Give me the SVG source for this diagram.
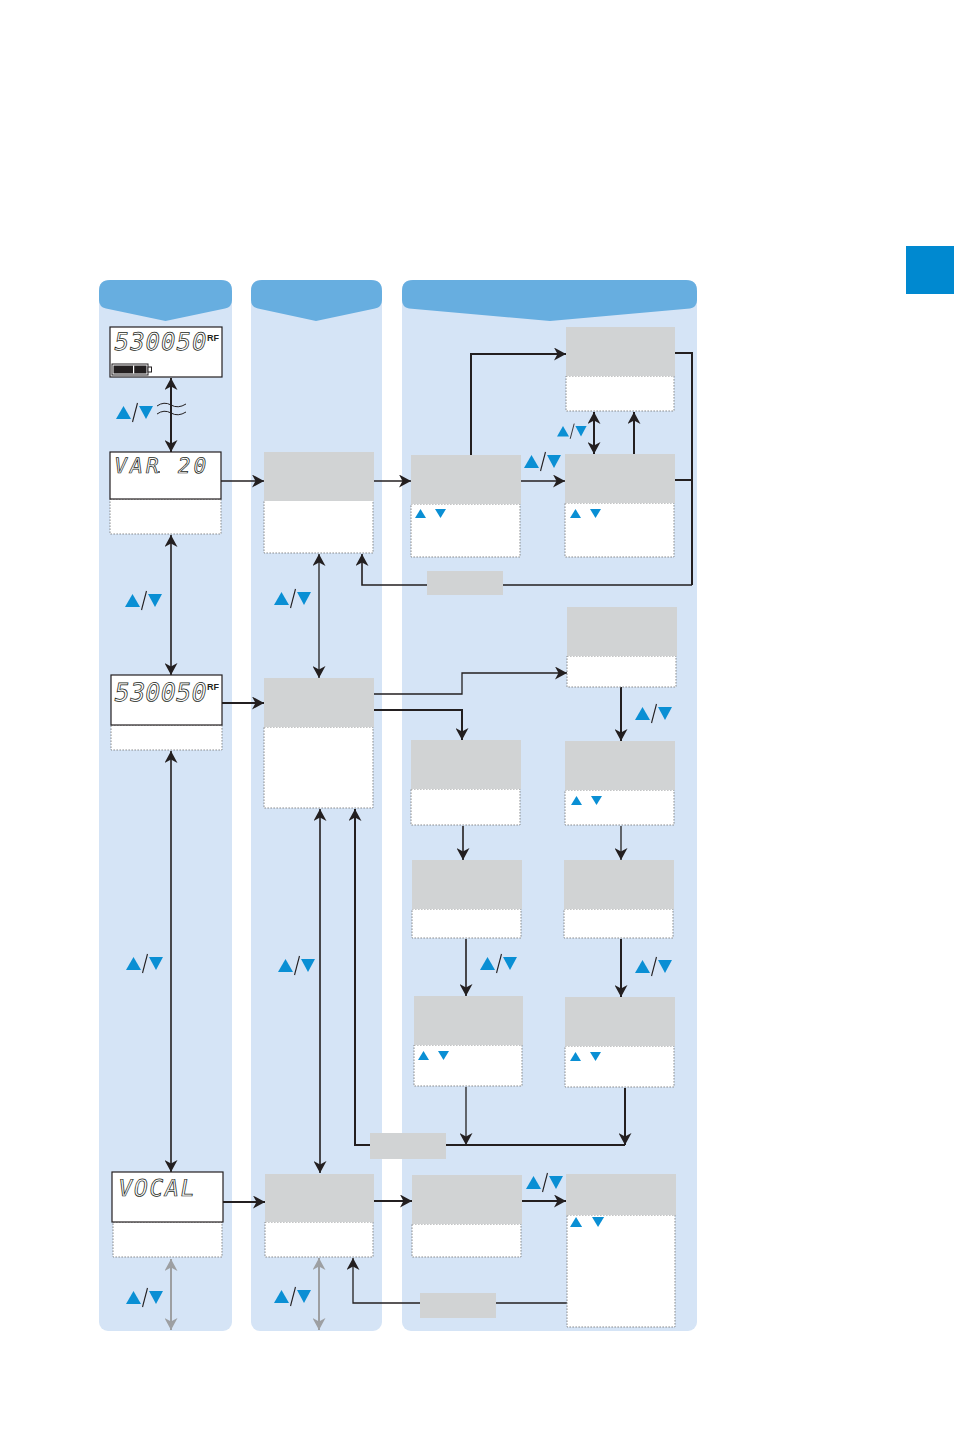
<svg xmlns="http://www.w3.org/2000/svg" xmlns:xlink="http://www.w3.org/1999/xlink" width="954" height="1431" viewBox="0 0 954 1431">
<style>
.body{fill:#d5e4f6}
.head{fill:#67aee0}
.g{fill:#d1d3d4}
.w{fill:#fff;stroke:#8a8c8e;stroke-width:1;stroke-dasharray:1.6 1.4}
.lcd{fill:#fff;stroke:#231f20;stroke-width:1.2}
.seg{font-family:"DejaVu Sans Mono",monospace;fill:#fff;stroke:#231f20;stroke-width:0.75}
.rf{font-family:"Liberation Sans",Arial,sans-serif;font-weight:bold;font-size:9px;fill:#231f20}
.c{fill:none;stroke:#231f20}
.t1{stroke-width:1.3}
.t2{stroke-width:2}
.t15{stroke-width:1.6}
.gr{fill:none;stroke:#9d9fa2;stroke-width:2}
.tri{fill:#0a8fd4}
</style>
<defs>
<marker id="ah" viewBox="0 0 12 13" refX="12" refY="6.5" markerWidth="12" markerHeight="13" markerUnits="userSpaceOnUse" orient="auto-start-reverse">
<path d="M0,0 L12,6.5 L0,13 L3.5,6.5 Z" fill="#231f20"/>
</marker>
<marker id="ahg" viewBox="0 0 12 13" refX="12" refY="6.5" markerWidth="12" markerHeight="13" markerUnits="userSpaceOnUse" orient="auto-start-reverse">
<path d="M0,0 L12,6.5 L0,13 L3.5,6.5 Z" fill="#9d9fa2"/>
</marker>
<g id="ud">
<path class="tri" d="M0,13 L7.5,0 L15,13 Z"/>
<path d="M16.5,16 L21.5,-3" stroke="#231f20" stroke-width="1.1" fill="none"/>
<path class="tri" d="M23,0 L37,0 L30,13 Z"/>
</g>
<g id="ud2">
<path class="tri" d="M0,9 L5.5,0 L11,9 Z"/>
<path class="tri" d="M20,0 L31,0 L25.5,9 Z"/>
</g>
</defs>

<rect x="906" y="246" width="48" height="48" fill="#0089d0"/>

<g id="columns">
<rect class="body" x="99" y="280" width="133" height="1051" rx="9"/>
<path class="head" d="M99,291 Q99,280 110,280 L221,280 Q232,280 232,291 L232,300 Q232,307 225,308.5 L165.5,321 L106,308.5 Q99,307 99,300 Z"/>
<rect class="body" x="251" y="280" width="131" height="1051" rx="9"/>
<path class="head" d="M251,291 Q251,280 262,280 L371,280 Q382,280 382,291 L382,300 Q382,307 375,308.5 L316,321 L258,308.5 Q251,307 251,300 Z"/>
<rect class="body" x="402" y="280" width="295" height="1051" rx="9"/>
<path class="head" d="M402,291 Q402,280 413,280 L686,280 Q697,280 697,291 L697,300 Q697,307 690,308.5 L550,321 L409,308.5 Q402,307 402,300 Z"/>
</g>

<g id="connectors">
<path class="c t2" d="M171,378 V452" marker-start="url(#ah)" marker-end="url(#ah)"/>
<path d="M157,406 Q164,401 171,405 T186,404 M157,414 Q164,409 171,413 T186,412" fill="none" stroke="#231f20" stroke-width="1"/>
<path class="c t15" d="M171,535 V675" marker-start="url(#ah)" marker-end="url(#ah)"/>
<path class="c t15" d="M171,751 V1172" marker-start="url(#ah)" marker-end="url(#ah)"/>
<path class="c t1" d="M221,481 H264" marker-end="url(#ah)"/>
<path class="c t2" d="M222,703 H264" marker-end="url(#ah)"/>
<path class="c t2" d="M223,1202 H265" marker-end="url(#ah)"/>
<path class="c t1" d="M374,481 H411" marker-end="url(#ah)"/>
<path class="c t1" d="M319,554 V678" marker-start="url(#ah)" marker-end="url(#ah)"/>
<path class="c t15" d="M320,809 V1173" marker-start="url(#ah)" marker-end="url(#ah)"/>
<path class="c t1" d="M374,694 H462 V673 H567" marker-end="url(#ah)"/>
<path class="c t2" d="M374,710 H462 V740" marker-end="url(#ah)"/>
<path class="c t2" d="M471,455 V354 H566" marker-end="url(#ah)"/>
<path class="c t1" d="M521,481 H565" marker-end="url(#ah)"/>
<path class="c t2" d="M594,412 V454" marker-start="url(#ah)" marker-end="url(#ah)"/>
<path class="c t2" d="M634,454 V412" marker-end="url(#ah)"/>
<path class="c t2" d="M675,353 H692 V585 M675,480 H692"/>
<path class="c t15" d="M692,585 H362 V554" marker-end="url(#ah)"/>
<path class="c t2" d="M621,687 V741" marker-end="url(#ah)"/>
<path class="c t15" d="M463,826 V860" marker-end="url(#ah)"/>
<path class="c t1" d="M621,826 V860" marker-end="url(#ah)"/>
<path class="c t15" d="M466,939 V996" marker-end="url(#ah)"/>
<path class="c t2" d="M621,939 V997" marker-end="url(#ah)"/>
<path class="c t1" d="M466,1087 V1145" marker-end="url(#ah)"/>
<path class="c t2" d="M625,1088 V1145" marker-end="url(#ah)"/>
<path class="c t2" d="M625,1145 H355 V809" marker-end="url(#ah)"/>
<path class="c t2" d="M374,1201 H412" marker-end="url(#ah)"/>
<path class="c t2" d="M522,1201 H566" marker-end="url(#ah)"/>
<path class="c t1" d="M567,1303 H353 V1258" marker-end="url(#ah)"/>
<path class="gr" d="M171,1259 V1330" marker-start="url(#ahg)" marker-end="url(#ahg)"/>
<path class="gr" d="M319,1258 V1330" marker-start="url(#ahg)" marker-end="url(#ahg)"/>
<use xlink:href="#ud" href="#ud" x="116" y="406"/>
<use xlink:href="#ud" href="#ud" x="125" y="594"/>
<use xlink:href="#ud" href="#ud" x="126" y="957"/>
<use xlink:href="#ud" href="#ud" x="126" y="1291"/>
<use xlink:href="#ud" href="#ud" x="274" y="592"/>
<use xlink:href="#ud" href="#ud" x="278" y="959"/>
<use xlink:href="#ud" href="#ud" x="274" y="1290"/>
<use xlink:href="#ud" href="#ud" x="524" y="455"/>
<use xlink:href="#ud" href="#ud" transform="translate(557,426) scale(0.8)"/>
<use xlink:href="#ud" href="#ud" x="635" y="707"/>
<use xlink:href="#ud" href="#ud" x="480" y="957"/>
<use xlink:href="#ud" href="#ud" x="635" y="960"/>
<use xlink:href="#ud" href="#ud" x="526" y="1176"/>
</g>

<g id="lcd1">
<rect class="lcd" x="110" y="327" width="112" height="50"/>
<text class="seg" transform="translate(113,350) skewX(-10)" x="0" y="0" font-size="24" textLength="92" lengthAdjust="spacing">530050</text>
<text class="rf" x="207" y="341">RF</text>
<rect x="112" y="364" width="36" height="11" fill="#fff" stroke="#231f20" stroke-width="1"/>
<rect x="113.5" y="365.5" width="33" height="8" fill="#231f20"/>
<rect x="133" y="365.5" width="1.2" height="8" fill="#fff"/>
<rect x="148" y="367" width="3.5" height="5" fill="#fff" stroke="#231f20" stroke-width="1"/>
</g>

<g id="lcd2">
<rect class="w" x="110" y="499" width="111" height="35"/>
<rect class="lcd" x="110" y="452" width="111" height="47"/>
<text class="seg" transform="translate(113,473) skewX(-10)" x="0" y="0" font-size="21" textLength="92" lengthAdjust="spacing">VAR 20</text>
<circle cx="159" cy="472" r="0.9" fill="#231f20"/>
</g>

<g id="lcd3">
<rect class="w" x="111" y="725" width="111" height="25"/>
<rect class="lcd" x="111" y="675" width="111" height="50"/>
<text class="seg" transform="translate(113,701) skewX(-10)" x="0" y="0" font-size="25" textLength="92" lengthAdjust="spacing">530050</text>
<text class="rf" x="207" y="690">RF</text>
</g>

<g id="lcd4">
<rect class="w" x="113" y="1222" width="109" height="35"/>
<rect class="lcd" x="112" y="1172" width="111" height="50"/>
<text class="seg" transform="translate(117,1196) skewX(-10)" x="0" y="0" font-size="23" textLength="76" lengthAdjust="spacing">VOCAL</text>
</g>

<g id="b1"><rect class="w" x="264" y="500" width="109" height="53"/><rect class="g" x="264" y="452" width="110" height="49"/></g>
<g id="b2"><rect class="w" x="264" y="727" width="109" height="81"/><rect class="g" x="264" y="678" width="110" height="49"/></g>
<g id="b3"><rect class="w" x="265" y="1222" width="108" height="35"/><rect class="g" x="265" y="1174" width="109" height="48"/></g>

<g id="c1"><rect class="w" x="566" y="376" width="108" height="35"/><rect class="g" x="566" y="327" width="109" height="49"/></g>
<g id="c2"><rect class="w" x="411" y="504" width="109" height="53"/><rect class="g" x="411" y="455" width="110" height="49"/><use xlink:href="#ud2" href="#ud2" x="415" y="509"/></g>
<g id="c3"><rect class="w" x="565" y="503" width="109" height="54"/><rect class="g" x="565" y="454" width="110" height="49"/><use xlink:href="#ud2" href="#ud2" x="570" y="509"/></g>
<g id="c4"><rect class="w" x="567" y="656" width="109" height="31"/><rect class="g" x="567" y="607" width="110" height="49"/></g>
<g id="c5"><rect class="w" x="411" y="789" width="109" height="36"/><rect class="g" x="411" y="740" width="110" height="49"/></g>
<g id="c6"><rect class="w" x="565" y="790" width="109" height="35"/><rect class="g" x="565" y="741" width="110" height="49"/><use xlink:href="#ud2" href="#ud2" x="571" y="796"/></g>
<g id="c7"><rect class="w" x="412" y="909" width="109" height="29"/><rect class="g" x="412" y="860" width="110" height="49"/></g>
<g id="c8"><rect class="w" x="564" y="909" width="109" height="29"/><rect class="g" x="564" y="860" width="110" height="49"/></g>
<g id="c9"><rect class="w" x="414" y="1045" width="108" height="41"/><rect class="g" x="414" y="996" width="109" height="49"/><use xlink:href="#ud2" href="#ud2" x="418" y="1051"/></g>
<g id="c10"><rect class="w" x="565" y="1046" width="109" height="41"/><rect class="g" x="565" y="997" width="110" height="49"/><use xlink:href="#ud2" href="#ud2" x="570" y="1052"/></g>
<g id="c11"><rect class="w" x="412" y="1224" width="109" height="33"/><rect class="g" x="412" y="1175" width="110" height="49"/></g>
<g id="c12"><rect class="w" x="567" y="1215" width="108" height="112"/><rect class="g" x="566" y="1174" width="110" height="41"/><use xlink:href="#ud2" href="#ud2" transform="translate(570,1217) scale(1.1)"/></g>

<g id="l1"><rect class="g" x="427" y="571" width="76" height="24"/></g>
<g id="l2"><rect class="g" x="370" y="1133" width="76" height="26"/></g>
<g id="l3"><rect class="g" x="420" y="1293" width="76" height="25"/></g>
</svg>
